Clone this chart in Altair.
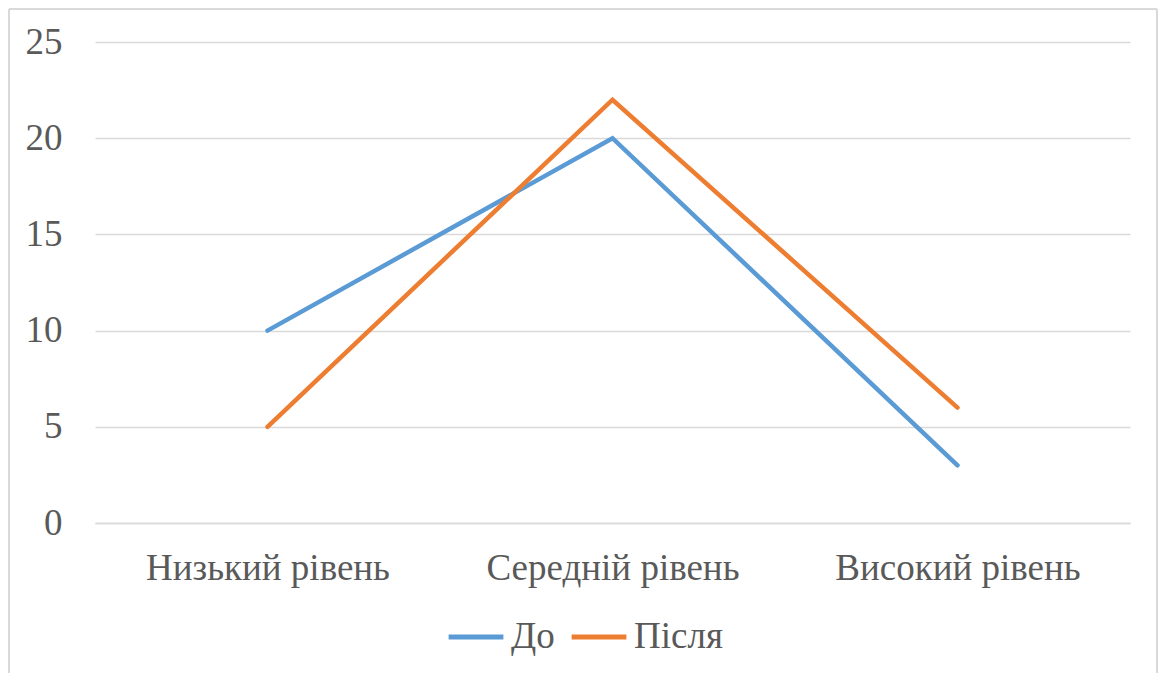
import altair as alt
import pandas as pd

categories = ["Низький рівень", "Середній рівень", "Високий рівень"]
series_names = ["До", "Після"]
before = [10, 20, 3]
after = [5, 22, 6]
colors = ["#5B9BD5", "#ED7D31"]

rows = []
for s, vals in zip(series_names, [before, after]):
    for c, v in zip(categories, vals):
        rows.append({"category": c, "series": s, "value": v})
df = pd.DataFrame(rows)

FONT = "Liberation Serif"
TXT = "#595959"
FS = 37

lines = alt.Chart(df).mark_line(strokeWidth=4.5, strokeCap="round").encode(
    x=alt.X("category:N", sort=categories,
            scale=alt.Scale(type="point", padding=0.5),
            axis=alt.Axis(title=None, labelAngle=0, ticks=False, grid=False,
                          domainColor="#d9d9d9", domainWidth=1.5,
                          labelFont=FONT, labelFontSize=FS, labelColor=TXT,
                          labelPadding=27, labelLimit=0)),
    y=alt.Y("value:Q", scale=alt.Scale(domain=[0, 25], nice=False),
            axis=alt.Axis(title=None, values=[0, 5, 10, 15, 20, 25], ticks=False,
                          domain=False, gridColor="#d9d9d9", gridWidth=1.5,
                          labelFont=FONT, labelFontSize=FS, labelColor=TXT,
                          labelPadding=33)),
    color=alt.Color("series:N", sort=series_names,
                    scale=alt.Scale(domain=series_names, range=colors),
                    legend=alt.Legend(title=None, orient="none", direction="horizontal",
                                      legendX=351, legendY=565,
                                      symbolType="stroke", symbolSize=3000,
                                      symbolStrokeWidth=5,
                                      labelFont=FONT, labelFontSize=FS,
                                      labelColor=TXT, labelOffset=5,
                                      columnPadding=6, labelLimit=0)),
)

edge = alt.Chart(pd.DataFrame({"a": [0]}))
left = edge.mark_rule(color="#d9d9d9", strokeWidth=2).encode(
    x=alt.value(-86), y=alt.value(-33), y2=alt.value(700))
right = edge.mark_rule(color="#d9d9d9", strokeWidth=2).encode(
    x=alt.value(1062), y=alt.value(-33), y2=alt.value(700))
top = edge.mark_rule(color="#d9d9d9", strokeWidth=2).encode(
    x=alt.value(-86), x2=alt.value(1062), y=alt.value(-33))

chart = alt.layer(left, right, top, lines).properties(
    width=1035, height=481,
    autosize=alt.AutoSizeParams(type="none"),
    padding={"left": 87, "top": 34, "right": 28, "bottom": 150},
).configure_view(stroke=None)

chart.save("out.html", embed_options={"renderer": "svg", "actions": False})
